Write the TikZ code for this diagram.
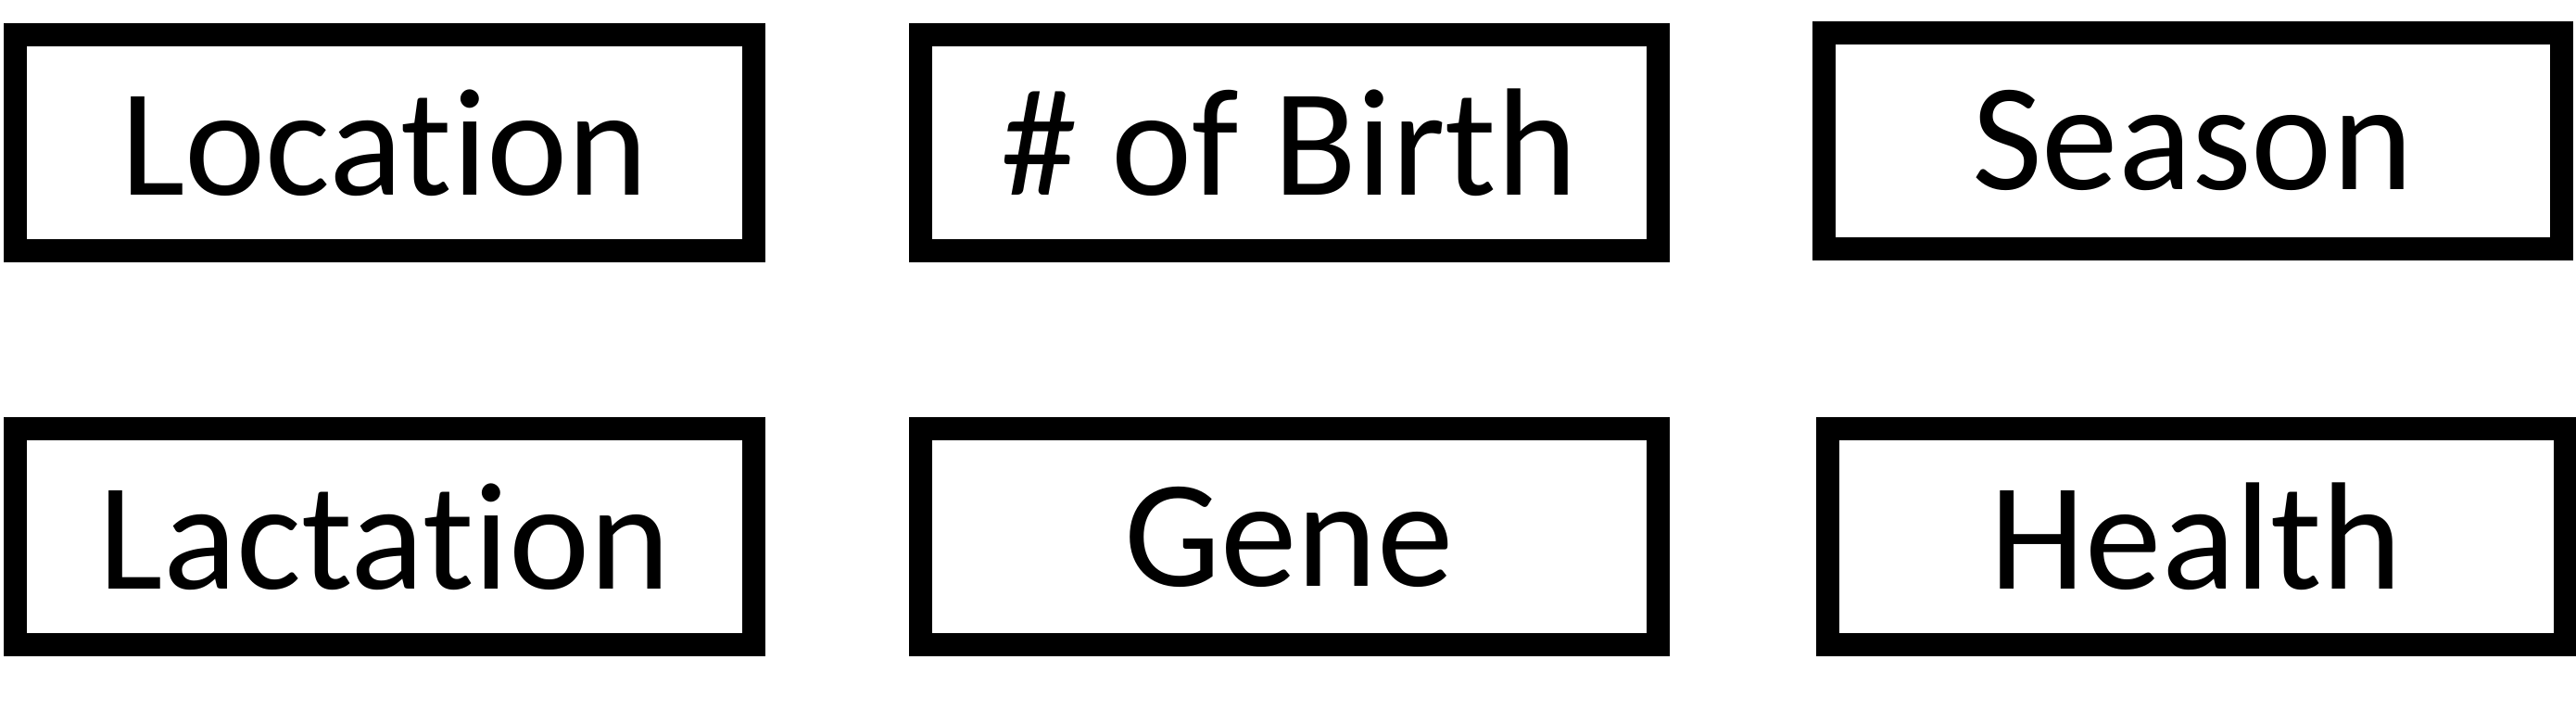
\documentclass[tikz,border=0pt]{standalone}
\usepackage{fontspec}
\setmainfont{Carlito}[Ligatures=NoCommon]
\usetikzlibrary{positioning}

\tikzset{
  factor/.style={rectangle, draw, line width=2.5mm, minimum width=7.96cm,
    minimum height=2.33cm, inner sep=0pt,
    font=\fontsize{47}{56}\selectfont}
}

\begin{document}
\begin{tikzpicture}
      \useasboundingbox (0,0) rectangle (27.8,-7.8);

      \node[factor] (loc) at (4.15,-1.54) {Location};
      \node[factor] (birth) at (13.91,-1.54) {\# of Birth};
      \node[factor] (season) at (23.66,-1.52) {Season};

      \node[factor] (lact) at (4.15,-5.79) {Lactation};
      \node[factor] (gene) at (13.91,-5.79) {Gene};
      \node[factor] (health) at (23.70,-5.79) {Health};
    \end{tikzpicture}
\end{document}
